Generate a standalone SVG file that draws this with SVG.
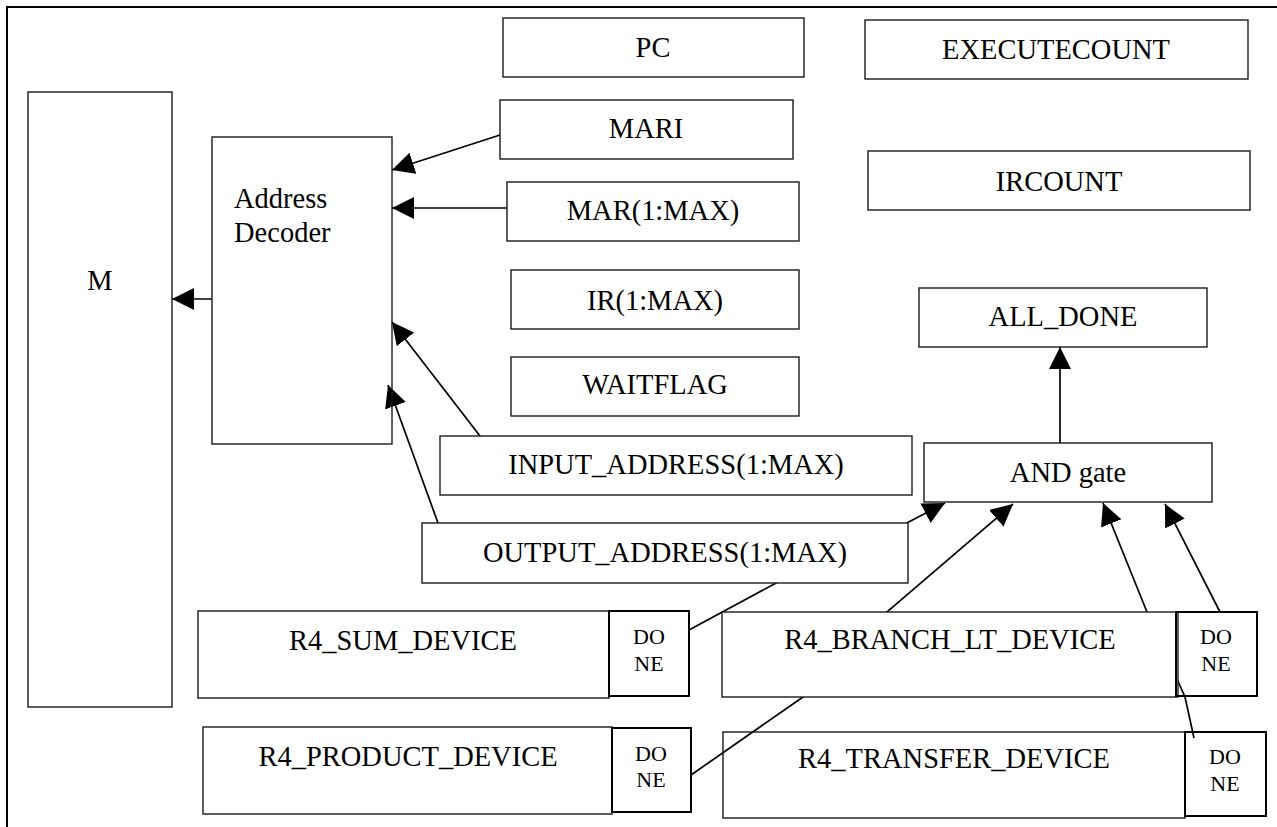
<svg xmlns="http://www.w3.org/2000/svg" width="1277" height="827" viewBox="0 0 1277 827">
<style>
.box{fill:none;stroke:#1a1a1a;stroke-width:1.4}
.cover{fill:#fff}
.done{fill:none;stroke:#000;stroke-width:2}
.lbl{font-family:"Liberation Serif","Times New Roman",serif;font-size:30px;fill:#000;text-anchor:middle;transform-box:fill-box;transform-origin:center;transform:scaleX(0.95)}
.sm{font-family:"Liberation Serif","Times New Roman",serif;font-size:22px;fill:#000;text-anchor:middle}
.conn{fill:none;stroke:#000;stroke-width:1.7}
</style>
<defs>
<marker id="ah" markerUnits="userSpaceOnUse" markerWidth="22" markerHeight="22" viewBox="0 0 22 22" refX="22" refY="11" orient="auto">
<path d="M0,0 L22,11 L0,22 z" fill="#000"/>
</marker>
</defs>
<rect width="1277" height="827" fill="#fff"/>
<path d="M7,827 V7 H1277" fill="none" stroke="#000" stroke-width="2"/>
<g id="connectors">
<path class="conn" d="M500,135 L392,170" marker-end="url(#ah)"/>
<path class="conn" d="M507,208 L392,208" marker-end="url(#ah)"/>
<path class="conn" d="M480,436 L392,322" marker-end="url(#ah)"/>
<path class="conn" d="M438,523 L388,385" marker-end="url(#ah)"/>
<path class="conn" d="M212,299 L172,299" marker-end="url(#ah)"/>
<path class="conn" d="M1060,443 L1060,347" marker-end="url(#ah)"/>
<path class="conn" d="M689,630 L778,582 L903,525 L945,503" marker-end="url(#ah)"/>
<path class="conn" d="M691,775 L803,697 L888,611 L1013,504" marker-end="url(#ah)"/>
<path class="conn" d="M1194,738 L1185,697 L1147,612 L1103,503" marker-end="url(#ah)"/>
<path class="conn" d="M1220,612 L1165,504" marker-end="url(#ah)"/>
</g>
<g id="M"><rect class="box" x="28" y="92" width="144" height="615"/><text class="lbl" x="100" y="290">M</text></g>
<g id="decoder"><rect class="box" x="212" y="137" width="180" height="307"/><text class="lbl" x="231.5" y="208" style="text-anchor:start">Address</text><text class="lbl" x="231.5" y="242" style="text-anchor:start">Decoder</text></g>
<g id="pc"><rect class="box" x="503" y="18" width="301" height="59"/><text class="lbl" x="653" y="57">PC</text></g>
<g id="mari"><rect class="box" x="500" y="100" width="293" height="59"/><text class="lbl" x="646" y="138">MARI</text></g>
<g id="mar"><rect class="box" x="507" y="182" width="292" height="59"/><text class="lbl" x="653" y="220">MAR(1:MAX)</text></g>
<g id="ir"><rect class="box" x="511" y="270" width="288" height="59"/><text class="lbl" x="655" y="310">IR(1:MAX)</text></g>
<g id="waitflag"><rect class="box" x="511" y="357" width="288" height="59"/><text class="lbl" x="655" y="394">WAITFLAG</text></g>
<g id="input"><rect class="box" x="440" y="436" width="472" height="59"/><text class="lbl" x="676" y="474">INPUT_ADDRESS(1:MAX)</text></g>
<g id="output"><rect class="box cover" x="422" y="523" width="486" height="60"/><text class="lbl" x="665" y="562">OUTPUT_ADDRESS(1:MAX)</text></g>
<g id="executecount"><rect class="box" x="865" y="20" width="383" height="59"/><text class="lbl" x="1056" y="59">EXECUTECOUNT</text></g>
<g id="ircount"><rect class="box" x="868" y="151" width="382" height="59"/><text class="lbl" x="1059" y="191">IRCOUNT</text></g>
<g id="alldone"><rect class="box" x="919" y="288" width="288" height="59"/><text class="lbl" x="1063" y="326">ALL_DONE</text></g>
<g id="andgate"><rect class="box" x="924" y="443" width="288" height="59"/><text class="lbl" x="1068" y="482">AND gate</text></g>
<g id="sum"><rect class="box" x="198" y="611" width="411" height="87"/><text class="lbl" x="403" y="650">R4_SUM_DEVICE</text>
<rect class="done" x="609" y="611" width="80" height="85"/><text class="sm" x="649" y="644">DO</text><text class="sm" x="649" y="671">NE</text></g>
<g id="product"><rect class="box" x="203" y="727" width="409" height="87"/><text class="lbl" x="408" y="766">R4_PRODUCT_DEVICE</text>
<rect class="done" x="612" y="728" width="79" height="84"/><text class="sm" x="651" y="761">DO</text><text class="sm" x="651" y="787">NE</text></g>
<g id="branch"><rect class="box cover" x="722" y="612" width="456" height="85"/><text class="lbl" x="950" y="649">R4_BRANCH_LT_DEVICE</text>
<rect class="done cover" x="1176" y="612" width="81" height="84"/><text class="sm" x="1216" y="644">DO</text><text class="sm" x="1216" y="671">NE</text></g>
<g id="transfer"><rect class="box" x="723" y="732" width="462" height="86"/><text class="lbl" x="954" y="768">R4_TRANSFER_DEVICE</text>
<rect class="done" x="1185" y="732" width="81" height="84"/><text class="sm" x="1225" y="764">DO</text><text class="sm" x="1225" y="791">NE</text></g>
</svg>
